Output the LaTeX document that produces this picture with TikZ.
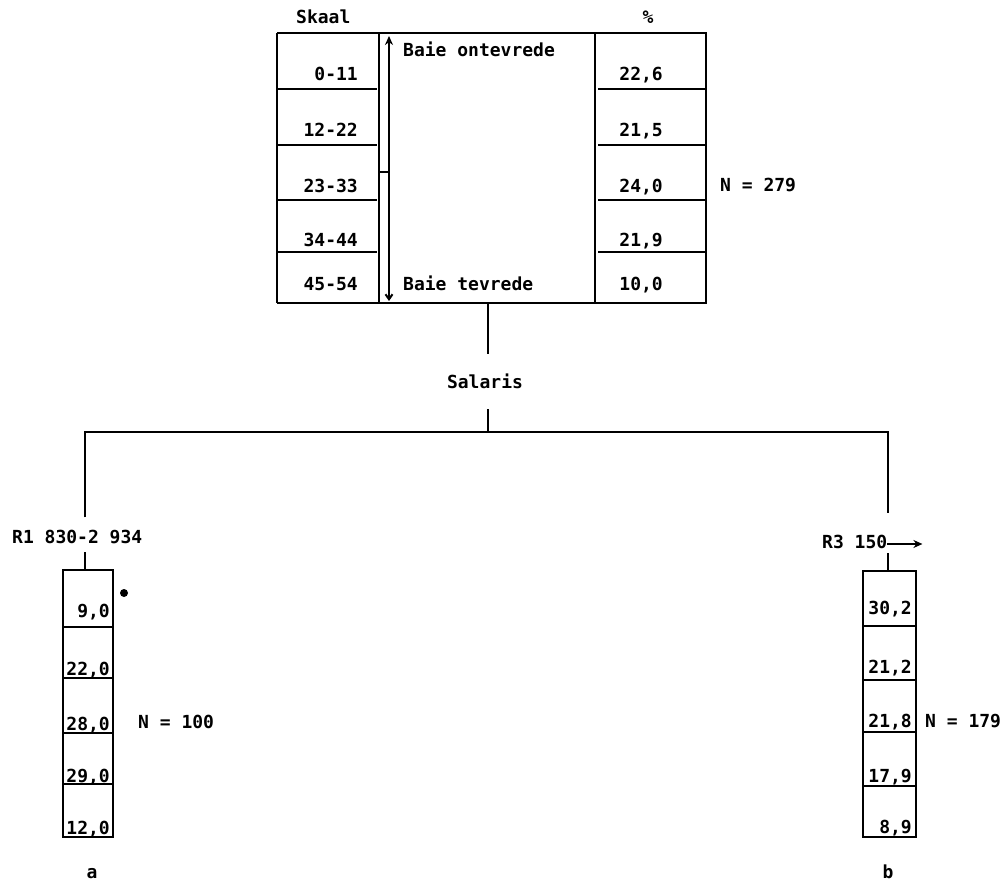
\documentclass[tikz,border=0pt]{standalone}
\usepackage{fontspec}
\newfontfamily\tw{DejaVu Sans Mono Bold}
\usetikzlibrary{arrows.meta}
\begin{document}
\begin{tikzpicture}[x=1pt,y=-1pt,
  txt/.style={font=\tw\fontsize{18}{20}\selectfont, inner sep=0pt},
  rlab/.style={txt, anchor=base east},
  llab/.style={txt, anchor=base west},
  clab/.style={txt, anchor=base},
  rule/.style={line width=2.6pt},
  wall/.style={line width=2pt},
  link/.style={line width=1.8pt}]
\useasboundingbox (0,0) rectangle (1005,885);

% ---------- top table ----------
\draw[rule] (277,33) -- (707,33);
\draw[rule] (277,303) -- (707,303);
\draw[wall] (277,33) -- (277,303);
\draw[wall] (379,33) -- (379,303);
\draw[wall] (378,172) -- (389,172);
\draw[wall,{Straight Barb[length=5pt,width=7pt]}-{Stealth[length=9pt,width=8pt]}] (389,301) -- (389,36);
\draw[wall] (595,33) -- (595,303);
\draw[wall] (706,33) -- (706,303);
\foreach \yy in {89,145,200,252}{
  \draw[rule] (278,\yy) -- (377,\yy);
  \draw[rule] (598,\yy) -- (706,\yy);
}
\node[llab] (skaal) at (296,24) {Skaal};
\node[clab] (pct) at (648,24) {\%};
\node[rlab] (s1) at (358,81) {0-11};
\node[rlab] (s2) at (358,137) {12-22};
\node[rlab] (s3) at (358,193) {23-33};
\node[rlab] (s4) at (358,247) {34-44};
\node[rlab] (s5) at (358,291) {45-54};
\node[rlab] (p1) at (663,81) {22,6};
\node[rlab] (p2) at (663,137) {21,5};
\node[rlab] (p3) at (663,193) {24,0};
\node[rlab] (p4) at (663,247) {21,9};
\node[rlab] (p5) at (663,291) {10,0};
\node[llab] (ont) at (403,57) {Baie ontevrede};
\node[llab] (tev) at (403,291) {Baie tevrede};
\node[llab] (n279) at (720,192) {N = 279};
\coordinate (tblbot) at (488,303);

% ---------- Salaris and bus ----------
\node[clab, inner ysep=20pt] (sal) at (485,389) {Salaris};
\draw[link] (tblbot) -- (tblbot |- sal.north);
\coordinate (busM) at (488,432);
\coordinate (busL) at (85,432);
\coordinate (busR) at (888,432);
\draw[link] (busM |- sal.south) -- (busM);

\node[llab, inner ysep=12pt] (r1) at (12,543) {R1 830-2 934};
\node[llab, inner ysep=21pt, inner xsep=0pt] (r3) at (822,548) {R3 150};
\draw[link, -{Stealth[length=9pt,width=8pt]}] ([yshift=4pt]r3.base east) -- ++(35,0);
\draw[link] (busL |- r1.north) -- (busL) -- (busR) -- (busR |- r3.north);
\coordinate (r1foot) at (85,552);
\coordinate (r3foot) at (888,553);

% ---------- left box ----------
\node[draw, wall, minimum width=50pt, minimum height=267pt, inner sep=0pt] (boxa) at (88,703.5) {};
\draw[link] (r1foot) -- (r1foot |- boxa.north);
\foreach \yy in {570,627,678,733,784,837}{
  \draw[rule] (63,\yy) -- (113,\yy);
}
\node[rlab] (a1) at (110,617) {9,0};
\node[rlab] (a2) at (110,675) {22,0};
\node[rlab] (a3) at (110,730) {28,0};
\node[rlab] (a4) at (110,782) {29,0};
\node[rlab] (a5) at (110,834) {12,0};
\node[llab] (n100) at (138,728) {N = 100};
\fill (124,593) circle (4);
\node[clab] (la) at (92,878) {a};

% ---------- right box ----------
\node[draw, wall, minimum width=53pt, minimum height=266pt, inner sep=0pt] (boxb) at (889.5,704) {};
\draw[link] (r3foot) -- (r3foot |- boxb.north);
\foreach \yy in {571,626,680,732,786,837}{
  \draw[rule] (863,\yy) -- (916,\yy);
}
\node[rlab] (b1) at (912,614) {30,2};
\node[rlab] (b2) at (912,673) {21,2};
\node[rlab] (b3) at (912,727) {21,8};
\node[rlab] (b4) at (912,782) {17,9};
\node[rlab] (b5) at (912,833) {8,9};
\node[llab] (n179) at (925,727) {N = 179};
\node[clab] (lb) at (888,878) {b};
\end{tikzpicture}
\end{document}
